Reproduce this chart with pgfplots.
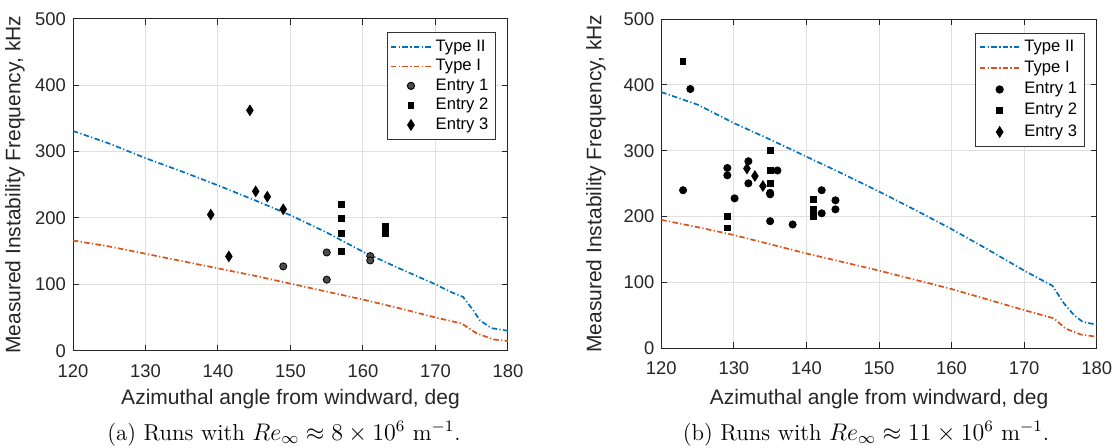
\documentclass[border=0pt]{standalone}
\usepackage{fontspec}
\usepackage{pgfplots}
\pgfplotsset{compat=1.18}
\newfontfamily\arial{Liberation Sans}
\definecolor{mblue}{rgb}{0,0.447,0.741}
\definecolor{morange}{rgb}{0.85,0.325,0.098}
\pgfplotsset{
  mystyle/.style={
    scale only axis,
    xmin=120, xmax=180, ymin=0, ymax=500,
    xtick={120,130,...,180}, ytick={0,100,...,500},
    grid=major,
    major grid style={black!12, line width=0.5pt},
    axis line style={black!85, line width=0.5pt},
    tick align=inside, tick pos=both,
    major tick length=3pt,
    tick style={black!85, line width=0.5pt},
    ticklabel style={font=\arial\fontsize{9.2}{11}\selectfont, text=black!85},
    xticklabel style={anchor=base, yshift=-13.2pt},
    /pgf/number format/assume math mode=true,
    label style={font=\arial\fontsize{10.5}{12}\selectfont, text=black!85},
    xlabel={Azimuthal angle from windward, deg},
    ylabel={Measured Instability Frequency, kHz},
    legend cell align=left,
    legend style={font=\arial\fontsize{8.3}{10}\selectfont, draw=black!80, line width=0.5pt,
      at={(rel axis cs:0.972,0.959)}, anchor=north east, inner sep=1.5pt, row sep=-1.5pt},
    legend image code/.code={\draw[mark repeat=2,mark phase=2,#1] plot coordinates {(0cm,0cm)(0.35cm,0cm)(0.7cm,0cm)};},
  },
  dd/.style={line width=0.85pt, dash pattern=on 2.7pt off 1.2pt on 0.6pt off 1.2pt},
  e1/.style={only marks, mark=*, mark size=1.8pt, mark options={fill=#1, draw=black}},
  e2/.style={only marks, mark=square*, mark size=1.4pt, mark options={fill=black, draw=black}},
  e3/.style={only marks, mark=diamond*, mark size=2.6pt, mark options={fill=black, draw=black, xscale=0.85}},
}
\begin{document}
\begin{tikzpicture}
\useasboundingbox (0,0) rectangle (556.5pt,223.5pt);
% ---------- (a) ----------
\begin{axis}[mystyle, at={(36.5pt,48.15pt)}, anchor=south west, width=217.5pt, height=166pt,
  ylabel style={at={(rel axis cs:0,0.5)}, anchor=center, yshift=29pt},
  xlabel style={at={(rel axis cs:0.5,0)}, anchor=base, yshift=-27.1pt}]
\addplot[mblue, dd] coordinates {(120,331)(125,312)(130,290)(135,270)(140,249)(145,227)(150,204)(155,178)(160,149)(165,124)(170,100)(172,89)(173.8,81)(175.2,61)(176.1,46)(177.7,34)(180,30)};
\addlegendentry{Type II}
\addplot[morange, dd] coordinates {(120,166)(125,157)(130,146)(135,135)(140,124)(145,113)(150,101)(155,89)(160,77)(165,64)(170,50)(173.6,41)(175.7,26)(178,17)(180,14.5)};
\addlegendentry{Type I}
\addplot[e1=black!70] coordinates {(149,127)(155,148)(155,107)(161,142.5)(161,136)};
\addlegendentry{Entry 1}
\addplot[e2] coordinates {(157,220)(157,199)(157,177)(157,150)(163.1,187)(163.1,177)};
\addlegendentry{Entry 2}
\addplot[e3] coordinates {(144.4,362)(139,205)(141.5,142)(145.2,240)(146.8,232)(149,213)};
\addlegendentry{Entry 3}
\end{axis}
% ---------- (b) ----------
\begin{axis}[mystyle, at={(330.65pt,49.35pt)}, anchor=south west, width=217.7pt, height=164.65pt,
  ylabel style={at={(rel axis cs:0,0.5)}, anchor=center, yshift=32.7pt},
  xlabel style={at={(rel axis cs:0.5,0)}, anchor=base, yshift=-28.3pt},
  legend style={row sep=-0.65pt}]
\addplot[mblue, dd] coordinates {(120,389)(125,370)(130,342)(135,317)(140,291)(145,265)(150,238)(155,210)(160,181)(165,150)(170,118)(173.9,95)(175.5,68)(176.9,50)(178.1,40)(180,36)};
\addlegendentry{Type II}
\addplot[morange, dd] coordinates {(120,195)(125,184)(130,172)(135,158)(140,144)(145,131)(150,118)(155,104)(160,90)(165,74)(170,58)(174.1,45.5)(175.7,30)(177.8,21)(180,17.5)};
\addlegendentry{Type I}
\addplot[e1=black] coordinates {(123,240)(124,393.7)(129.1,273.8)(129.1,262.7)(130.1,227.7)(132,284)(132,250.5)(135,236)(135,233.8)(135,193)(136,270)(138.1,188)(142.1,240)(142.1,205)(144,224.7)(144,211)};
\addlegendentry{Entry 1}
\addplot[e2] coordinates {(123,436)(129.1,200)(129.1,183)(135,300.6)(135,270)(135,250.5)(141,226)(141,211)(141,200)};
\addlegendentry{Entry 2}
\addplot[e3] coordinates {(131.8,273)(132.9,261.6)(134,246.4)};
\addlegendentry{Entry 3}
\end{axis}
\node[font=\fontsize{11.5}{13}\selectfont, anchor=base] at (142pt,3.4pt) {(a) Runs with $Re_\infty \approx 8\times10^{6}~\mathrm{m}^{-1}$.};
\node[font=\fontsize{11.5}{13}\selectfont, anchor=base] at (433pt,3.4pt) {(b) Runs with $Re_\infty \approx 11\times10^{6}~\mathrm{m}^{-1}$.};
\end{tikzpicture}
\end{document}
